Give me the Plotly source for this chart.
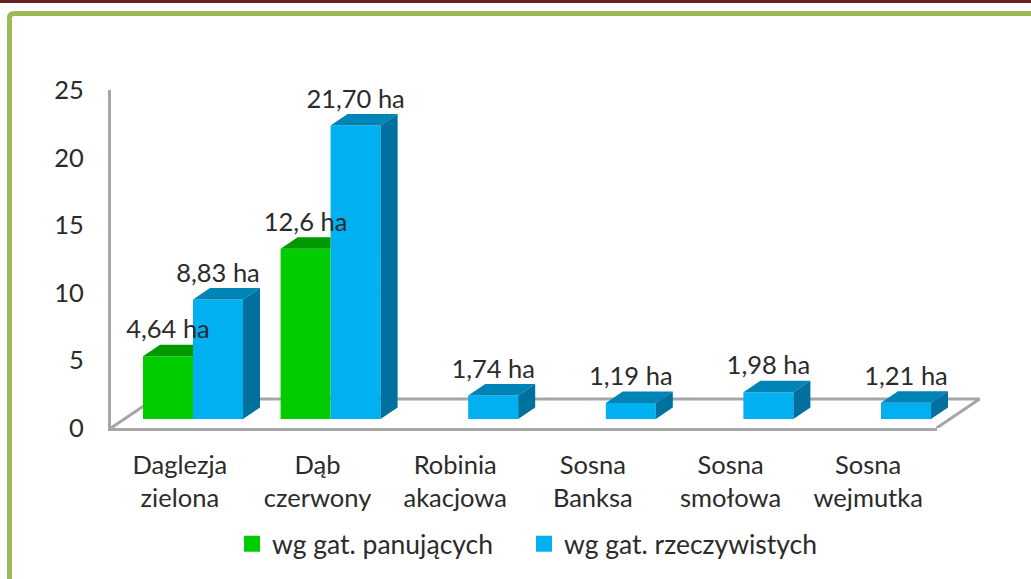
import plotly.graph_objects as go

categories = ["Daglezja<br>zielona", "Dąb<br>czerwony", "Robinia<br>akacjowa",
              "Sosna<br>Banksa", "Sosna<br>smołowa", "Sosna<br>wejmutka"]
panujacych = [4.64, 12.6, None, None, None, None]
rzeczywistych = [8.83, 21.70, 1.74, 1.19, 1.98, 1.21]
labels_pan = ["4,64 ha", "12,6 ha", "", "", "", ""]
labels_rze = ["8,83 ha", "21,70 ha", "1,74 ha", "1,19 ha", "1,98 ha", "1,21 ha"]
name_pan = "wg gat. panujących"
name_rze = "wg gat. rzeczywistych"
y_ticks = [0, 5, 10, 15, 20, 25]

W, H = 1031, 579
FONT = "Lato, Carlito, Calibri, sans-serif"
FS = 25.5
TXT = "#2b2b2b"
GREY = "#a6a6a6"
GREEN, GREEN_TOP = "#00cc00", "#009a00"
BLUE, BLUE_TOP, BLUE_SIDE = "#00b0f0", "#0083b5", "#00709e"

BAR_W = 50 / 137.6          # bar width in category units
DX, DY = 17 / 137.6, 11.5 / 13.52   # bar depth (data units)
FX, FY = 43 / 137.6, 29 / 13.52     # floor depth (data units)

fig = go.Figure()

# floor on its own hidden axes, drawn first so the bars cover it
fig.add_trace(go.Scatter(
    x=[-0.5, -0.5 + FX, 5.5 + FX, 5.5], y=[0, FY, FY, 0], mode="lines",
    line=dict(color=GREY, width=3), showlegend=False,
    hoverinfo="skip", xaxis="x", yaxis="y"))


def faces(vals, offset, clip_right):
    top_x, top_y, side_x, side_y = [], [], [], []
    for i, v in enumerate(vals):
        if v is None:
            continue
        x0 = i + offset
        x1 = x0 + BAR_W
        xb = x1 if clip_right else x1 + DX
        top_x += [x0, x1, xb, x0 + DX, x0, None]
        top_y += [v, v, v + DY, v + DY, v, None]
        side_x += [x1, x1 + DX, x1 + DX, x1, x1, None]
        side_y += [0, DY, v + DY, v, 0, None]
    return top_x, top_y, side_x, side_y


gx = [i for i in range(6)]
# invisible trace so the frame axes (x2, y2) exist
fig.add_trace(go.Scatter(x=gx, y=[None] * 6, mode="lines", showlegend=False,
                         hoverinfo="skip", xaxis="x2", yaxis="y2"))

fig.add_trace(go.Bar(x=gx, y=panujacych, name=name_pan, marker=dict(color=GREEN, line_width=0),
                     showlegend=False, xaxis="x3", yaxis="y3"))
fig.add_trace(go.Bar(x=gx, y=rzeczywistych, name=name_rze, marker=dict(color=BLUE, line_width=0),
                     showlegend=False, xaxis="x3", yaxis="y3"))

tx, ty, _, _ = faces(panujacych, -BAR_W, True)
fig.add_trace(go.Scatter(x=tx, y=ty, mode="lines", fill="toself", fillcolor=GREEN_TOP, line_width=0,
                         showlegend=False, hoverinfo="skip", xaxis="x3", yaxis="y3"))
tx, ty, sx, sy = faces(rzeczywistych, 0, False)
fig.add_trace(go.Scatter(x=tx, y=ty, mode="lines", fill="toself", fillcolor=BLUE_TOP, line_width=0,
                         showlegend=False, hoverinfo="skip", xaxis="x3", yaxis="y3"))
fig.add_trace(go.Scatter(x=sx, y=sy, mode="lines", fill="toself", fillcolor=BLUE_SIDE, line_width=0,
                         showlegend=False, hoverinfo="skip", xaxis="x3", yaxis="y3"))

# value labels
lab_x = [i - BAR_W / 2 for i, v in enumerate(panujacych) if v is not None] + \
        [i + BAR_W / 2 for i in range(6)]
lab_y = [v + DY for v in panujacych if v is not None] + [v + DY for v in rzeczywistych]
lab_t = [t for t in labels_pan if t] + labels_rze
fig.add_trace(go.Scatter(x=lab_x, y=lab_y, mode="text", text=lab_t, textposition="top center",
                         textfont=dict(family=FONT, size=FS, color=TXT), cliponaxis=False,
                         showlegend=False, hoverinfo="skip", xaxis="x3", yaxis="y3"))

# legend entries
for nm, col in ((name_pan, GREEN), (name_rze, BLUE)):
    fig.add_trace(go.Scatter(x=[None], y=[None], mode="markers", name=nm,
                             marker=dict(symbol="square", size=16, color=col),
                             xaxis="x3", yaxis="y3"))

page = "M {0} 0 L {0} {1} Q {0} {2} {3} {2} L 1 {2}".format(
    9.5 / W, 1 - 18 / H, 1 - 13.5 / H, 14 / W)

fig.update_layout(
    width=W, height=H, autosize=False,
    margin=dict(l=0, r=0, t=0, b=0, autoexpand=False),
    paper_bgcolor="white", plot_bgcolor="rgba(0,0,0,0)",
    barmode="group", bargap=1 - 2 * BAR_W, bargroupgap=0,
    font=dict(family=FONT, size=FS, color=TXT),
    xaxis=dict(domain=[100 / W, 990 / W], range=[-0.5 - 11 / 137.6, -0.5 + 879 / 137.6],
               visible=False, anchor="y"),
    yaxis=dict(domain=[1 - 428 / H, 1 - 90 / H], range=[0, 25], visible=False, anchor="x"),
    xaxis2=dict(domain=[111 / W, 937 / W], range=[-0.5, 5.5], tickmode="array",
                tickvals=gx, ticktext=categories, showgrid=False, zeroline=False,
                showline=True, linecolor=GREY, linewidth=3,
                ticks="outside", ticklen=12, tickcolor="rgba(0,0,0,0)",
                tickfont=dict(family=FONT, size=FS, color=TXT), anchor="y2"),
    yaxis2=dict(domain=[1 - 428 / H, 1 - 90 / H], range=[0, 25], tickmode="array",
                tickvals=y_ticks, showgrid=False, zeroline=False,
                showline=True, linecolor=GREY, linewidth=3,
                ticks="outside", ticklen=19, tickcolor="rgba(0,0,0,0)",
                tickfont=dict(family=FONT, size=FS, color=TXT), anchor="x2"),
    xaxis3=dict(domain=[124.2 / W, 949.8 / W], range=[-0.5, 5.5], visible=False, anchor="y3"),
    yaxis3=dict(domain=[1 - 419 / H, 1 - 81 / H], range=[0, 25], visible=False, anchor="x3"),
    legend=dict(orientation="h", x=232 / W, y=1 - 520 / H, xanchor="left", yanchor="top",
                font=dict(family=FONT, size=26.5, color=TXT), bgcolor="rgba(0,0,0,0)",
                itemwidth=30, tracegroupgap=0, entrywidth=247, entrywidthmode="pixels"),
    shapes=[
        dict(type="rect", xref="paper", yref="paper", x0=0, x1=1, y0=1 - 3 / H, y1=1,
             fillcolor="#632523", line_width=0),
        dict(type="path", xref="paper", yref="paper", path=page,
             line=dict(color="#9bbb59", width=5)),
    ],
)

fig.write_html("out.html", config=dict(displayModeBar=False),
               post_script="document.body.style.margin='0';document.documentElement.style.overflow='hidden';")
